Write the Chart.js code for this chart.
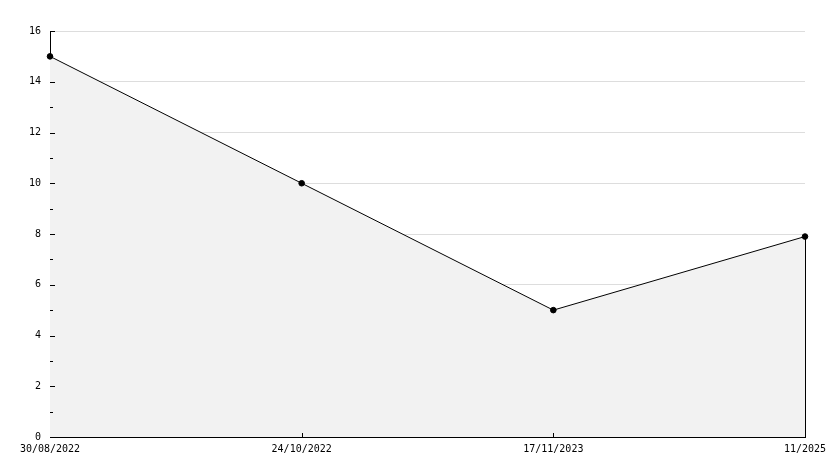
<!DOCTYPE html>
<html><head><meta charset="utf-8">
<script src="https://cdn.jsdelivr.net/npm/chart.js@4/dist/chart.umd.min.js"></script>
<style>html,body{margin:0;padding:0;background:#fff}#wrap{width:834px;height:468px}</style>
</head><body><div id="wrap"><canvas id="c" width="834" height="468"></canvas></div>
<script>
const categories = ["30/08/2022", "24/10/2022", "17/11/2023", "11/2025"];
const values = [15, 10, 5, 7.9];
const yMin = 0, yMax = 16, yMajorStep = 2;

const ticksPlugin = {
  id: 'customTicks',
  afterDraw(chart) {
    const ctx = chart.ctx, x = chart.scales.x, y = chart.scales.y, area = chart.chartArea;
    ctx.save();
    ctx.strokeStyle = '#000'; ctx.lineWidth = 1;
    ctx.beginPath();
    for (let v = yMin + 1; v <= yMax; v++) {
      const py = Math.round(y.getPixelForValue(v)) + 0.5;
      const len = (v % yMajorStep === 0) ? 5 : 3;
      ctx.moveTo(area.left, py); ctx.lineTo(area.left + len, py);
    }
    for (let i = 1; i < categories.length - 1; i++) {
      const px = Math.round(x.getPixelForValue(i)) + 0.5;
      ctx.moveTo(px, area.bottom); ctx.lineTo(px, area.bottom - 4);
    }
    const li = values.length - 1;
    const lx = Math.round(x.getPixelForValue(li)) + 0.5;
    ctx.moveTo(lx, y.getPixelForValue(values[li])); ctx.lineTo(lx, area.bottom);
    ctx.stroke();
    ctx.restore();
  }
};

new Chart(document.getElementById('c'), {
  type: 'line',
  data: {
    labels: categories,
    datasets: [{
      data: values,
      borderColor: '#000',
      borderWidth: 1,
      backgroundColor: '#f2f2f2',
      fill: 'origin',
      tension: 0,
      pointStyle: 'circle',
      pointRadius: 2.8,
      pointBackgroundColor: '#000',
      pointBorderColor: '#000',
      pointBorderWidth: 1
    }]
  },
  options: {
    responsive: false,
    animation: false,
    devicePixelRatio: 1,
    layout: { padding: { top: 31, right: 29, left: 0, bottom: 0 } },
    plugins: { legend: { display: false }, tooltip: { enabled: false } },
    scales: {
      x: {
        type: 'category',
        offset: false,
        afterFit(s) { s.height = 31; },
        grid: { display: false, drawTicks: false },
        border: { display: true, color: '#000', width: 1 },
        ticks: { autoSkip: false, maxRotation: 0, padding: 6, color: '#000',
                 font: { family: 'DejaVu Sans Mono', size: 10 } }
      },
      y: {
        min: yMin, max: yMax,
        afterFit(s) { s.width = 50; },
        grid: {
          drawTicks: false,
          color: (c) => (c.tick && c.tick.value % yMajorStep === 0 && c.tick.value !== yMin) ? '#dddddd' : 'rgba(0,0,0,0)',
          lineWidth: 1
        },
        border: { display: true, color: '#000', width: 1 },
        ticks: { stepSize: 1, padding: 9, color: '#000',
                 font: { family: 'DejaVu Sans Mono', size: 10 },
                 callback: (v) => (v % yMajorStep === 0 ? String(v) : '') }
      }
    }
  },
  plugins: [ticksPlugin]
});
</script></body></html>
